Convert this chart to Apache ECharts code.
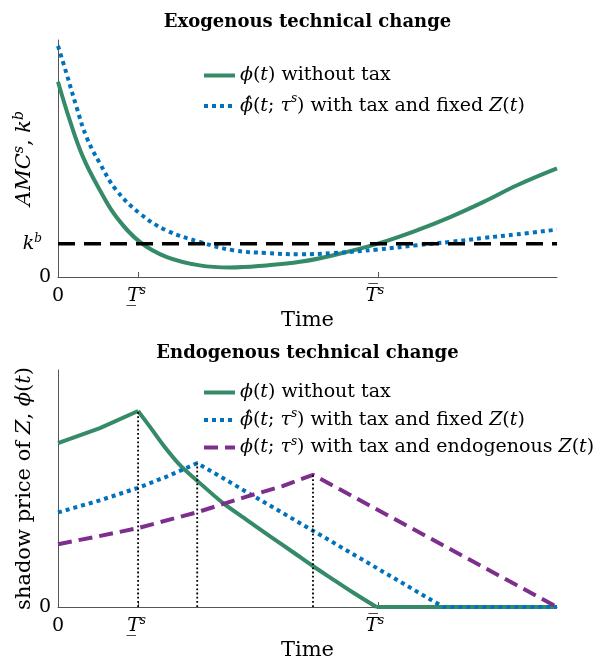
<!DOCTYPE html>
<html><head><meta charset="utf-8">
<script src="https://cdn.jsdelivr.net/npm/echarts@6/dist/echarts.min.js"></script>
<style>html,body{margin:0;padding:0;background:#fff}#c{width:594px;height:661px}</style>
</head><body><div id="c"></div><script>
// ---------- data (time axis 0..100, values in arbitrary units 0..10) ----------
const exoPhiTime = [0, 2.35, 5.0, 8.4, 11.7, 16.4, 21.7, 28.4, 34.5, 41.8, 48.5, 55.2, 64.1, 71.9, 78.6, 85.3, 92.0, 100];
const exoPhi     = [8.24, 6.62, 5.07, 3.66, 2.53, 1.48, 0.85, 0.49, 0.40, 0.49, 0.64, 0.92, 1.41, 1.97, 2.53, 3.17, 3.87, 4.58];
const exoHatTime = [0, 1.7, 3.7, 5.7, 8.4, 11.7, 16.4, 21.7, 28.4, 35.1, 41.8, 48.5, 55.1, 64.1, 71.9, 78.6, 85.3, 92.0, 100];
const exoPhiHat  = [9.75, 8.59, 7.18, 5.91, 4.79, 3.66, 2.68, 1.97, 1.48, 1.13, 1.01, 0.96, 1.01, 1.16, 1.34, 1.48, 1.65, 1.80, 2.0];
const kb = 1.4;
const kbTime = [0, 100];

const endoPhiTime = [0, 8.4, 16.05, 18.4, 21.07, 24.4, 28.1, 33.1, 37.8, 42.5, 47.2, 51.0, 54.5, 59.2, 63.8, 100];
const endoPhi     = [6.91, 7.55, 8.27, 7.61, 6.84, 6.0, 5.29, 4.38, 3.68, 2.98, 2.30, 1.74, 1.25, 0.60, 0, 0];
const endoPeakIndex = 2;   // switching point of phi(t)
const endoZeroIndex = 14;  // phi(t) reaches zero at upper T
const endoHatTime = [0, 8.4, 16.05, 22, 27.9, 51.1, 77.2, 100];
const endoPhiHat  = [3.99, 4.50, 5.03, 5.52, 6.07, 3.22, 0, 0];
const endoTauTime = [0, 8, 16.05, 27.9, 37.8, 45, 51.1, 100];
const endoPhiTau  = [2.65, 2.98, 3.33, 4.0, 4.66, 5.1, 5.58, 0];
const switchTimes = [16.05, 27.9, 51.1];
const switchPeaks = [8.27, 6.07, 5.58];

const xTickValues = [0, 16.05, 64.1];
const xTickLabels = ['{r|0}', '{m|T\u0332}{sup|s}{gap3|}', '{m|T\u0305}{sup|s}{gap6|}'];
const yTopTickValues = [0, kb];
const yTopTickLabels = ['{r|0}', '{m|k}{sup|b}{gap9|}'];

const titles = ['Exogenous technical change', 'Endogenous technical change'];
const legendLabels = {
  exoPhi: '{m|\u03D5}{r|(}{m|t}{r|) without tax}',
  exoHat: '{m|\u03D5\u0302}{r|(}{m|t}{r|; }{m|\u03C4}{sup|s}{r|) with tax and fixed }{m|Z}{r|(}{m|t}{r|)}',
  endoPhi: '{m|\u03D5}{r|(}{m|t}{r|) without tax}',
  endoHat: '{m|\u03D5\u0302}{r|(}{m|t}{r|; }{m|\u03C4}{sup|s}{r|) with tax and fixed }{m|Z}{r|(}{m|t}{r|)}',
  endoTau: '{m|\u03D5}{r|(}{m|t}{r|; }{m|\u03C4}{sup|s}{r|) with tax and endogenous }{m|Z}{r|(}{m|t}{r|)}'
};

// ---------- styling ----------
const FONT = 'DejaVu Serif';
const GREEN = '#358a67', BLUE = '#0072BD', PURPLE = '#7E2F8E';
const AXIS = '#555555';
function richSet(size, lh) {
  return {
    r: {fontFamily: FONT, fontSize: size, lineHeight: lh, color: '#000'},
    m: {fontFamily: FONT, fontStyle: 'italic', fontSize: size, lineHeight: lh, color: '#000'},
    sup: {fontFamily: FONT, fontStyle: 'italic', fontSize: Math.round(size * 0.65), lineHeight: Math.round(lh * 0.6), verticalAlign: 'top', color: '#000'},
    gap3: {width: 3}, gap6: {width: 6}, gap9: {width: 9}
  };
}
const pairs = (xs, ys) => xs.map((x, i) => [x, ys[i]]);

const grids = [
  {left: 58, right: 37, top: 40, height: 237, containLabel: false, outerBoundsMode: 'none'},
  {left: 58, right: 37, top: 370, height: 237, containLabel: false, outerBoundsMode: 'none'}
];

function xAxisFor(gi) {
  return {
    gridIndex: gi, type: 'value', min: 0, max: 100,
    name: 'Time', nameLocation: 'middle', nameGap: 33, nameMoveOverlap: false,
    nameTextStyle: {fontFamily: FONT, fontSize: 21, color: '#000'},
    axisLine: {show: true, lineStyle: {color: AXIS, width: 1}},
    axisTick: {show: true, inside: true, length: 5, customValues: xTickValues, lineStyle: {color: AXIS}},
    axisLabel: {customValues: xTickValues, margin: 8,
      formatter: v => xTickLabels[xTickValues.indexOf(v)] || '',
      rich: richSet(19, 22)},
    splitLine: {show: false}
  };
}
function legendFor(names, top, gap, lh) {
  return {data: names, orient: 'vertical', left: 202, top: top, padding: 0,
    itemWidth: 31, itemHeight: 14, itemGap: gap,
    lineStyle: {width: 4}, itemStyle: {opacity: 0},
    formatter: n => legendLabels[n],
    textStyle: {rich: richSet(19, lh)}};
}
const greenStyle = {symbol: 'none', lineStyle: {color: GREEN, width: 4}, itemStyle: {color: GREEN}};
const endoGreen = pairs(endoPhiTime, endoPhi);

const option = {
  animation: false,
  backgroundColor: '#fff',
  title: titles.map((t, i) => ({
    text: t, left: 307.5, textAlign: 'center', top: i === 0 ? 13 : 344, padding: 0,
    textStyle: {fontFamily: FONT, fontWeight: 'bold', fontSize: 18, color: '#000'}
  })),
  grid: grids,
  xAxis: [xAxisFor(0), xAxisFor(1)],
  yAxis: [
    {gridIndex: 0, type: 'value', min: 0, max: 10,
     name: '{m|AMC}{sup|s}{r|, }{m|k}{sup|b}', nameLocation: 'middle', nameGap: 20, nameRotate: 90, nameMoveOverlap: false,
     nameTextStyle: {rich: richSet(21, 26)},
     axisLine: {show: true, lineStyle: {color: AXIS, width: 1}},
     axisTick: {show: true, inside: true, length: 5, customValues: yTopTickValues, lineStyle: {color: AXIS}},
     axisLabel: {customValues: yTopTickValues, margin: 7,
       formatter: v => yTopTickLabels[yTopTickValues.indexOf(v)] || '',
       rich: richSet(19, 22)},
     splitLine: {show: false}},
    {gridIndex: 1, type: 'value', min: 0, max: 10,
     name: '{r|shadow price of }{m|Z}{r|, }{m|\u03D5}{r|(}{m|t}{r|)}', nameLocation: 'middle', nameGap: 20, nameRotate: 90, nameMoveOverlap: false,
     nameTextStyle: {rich: richSet(21, 26)},
     axisLine: {show: true, lineStyle: {color: AXIS, width: 1}},
     axisTick: {show: true, inside: true, length: 5, customValues: [0], lineStyle: {color: AXIS}},
     axisLabel: {customValues: [0], margin: 7, formatter: () => '{r|0}', rich: richSet(19, 22)},
     splitLine: {show: false}}
  ],
  legend: [
    legendFor(['exoPhi', 'exoHat'], 66, 8, 26),
    legendFor(['endoPhi', 'endoHat', 'endoTau'], 383, 6, 24)
  ],
  series: [
    {name: 'exoPhi', type: 'line', xAxisIndex: 0, yAxisIndex: 0, data: pairs(exoPhiTime, exoPhi),
     smooth: 0.4, ...greenStyle},
    {name: 'exoHat', type: 'line', xAxisIndex: 0, yAxisIndex: 0, data: pairs(exoHatTime, exoPhiHat),
     smooth: 0.4, symbol: 'none', lineStyle: {color: BLUE, width: 4, type: [4, 4], cap: 'butt'}, itemStyle: {color: BLUE}},
    {name: 'kb', type: 'line', xAxisIndex: 0, yAxisIndex: 0, data: kbTime.map(t => [t, kb]),
     symbol: 'none', lineStyle: {color: '#000', width: 3.5, type: [17, 9]}, z: 5},
    // green phi(t): rising part, decaying part (smooth), zero part; same name -> one legend entry
    {name: 'endoPhi', type: 'line', xAxisIndex: 1, yAxisIndex: 1,
     data: endoGreen.slice(0, endoPeakIndex + 1), ...greenStyle},
    {name: 'endoPhi', type: 'line', xAxisIndex: 1, yAxisIndex: 1,
     data: endoGreen.slice(endoPeakIndex, endoZeroIndex + 1), smooth: 0.3, ...greenStyle},
    {name: 'endoPhi', type: 'line', xAxisIndex: 1, yAxisIndex: 1,
     data: endoGreen.slice(endoZeroIndex), ...greenStyle},
    {name: 'endoHat', type: 'line', xAxisIndex: 1, yAxisIndex: 1, data: pairs(endoHatTime, endoPhiHat),
     symbol: 'none', lineStyle: {color: BLUE, width: 4, type: [4, 4], cap: 'butt'}, itemStyle: {color: BLUE}},
    {name: 'endoTau', type: 'line', xAxisIndex: 1, yAxisIndex: 1, data: pairs(endoTauTime, endoPhiTau),
     symbol: 'none', lineStyle: {color: PURPLE, width: 4, type: [14, 7]}, itemStyle: {color: PURPLE}},
    ...switchTimes.map((t, i) => ({
      name: 'switch' + i, type: 'line', xAxisIndex: 1, yAxisIndex: 1, data: [[t, 0], [t, switchPeaks[i]]],
      symbol: 'none', lineStyle: {color: '#000', width: 1.8, type: [1.8, 2.4]}, z: 5
    }))
  ]
};
const chart = echarts.init(document.getElementById('c'), null, {renderer: 'canvas'});
chart.setOption(option);
</script></body></html>
